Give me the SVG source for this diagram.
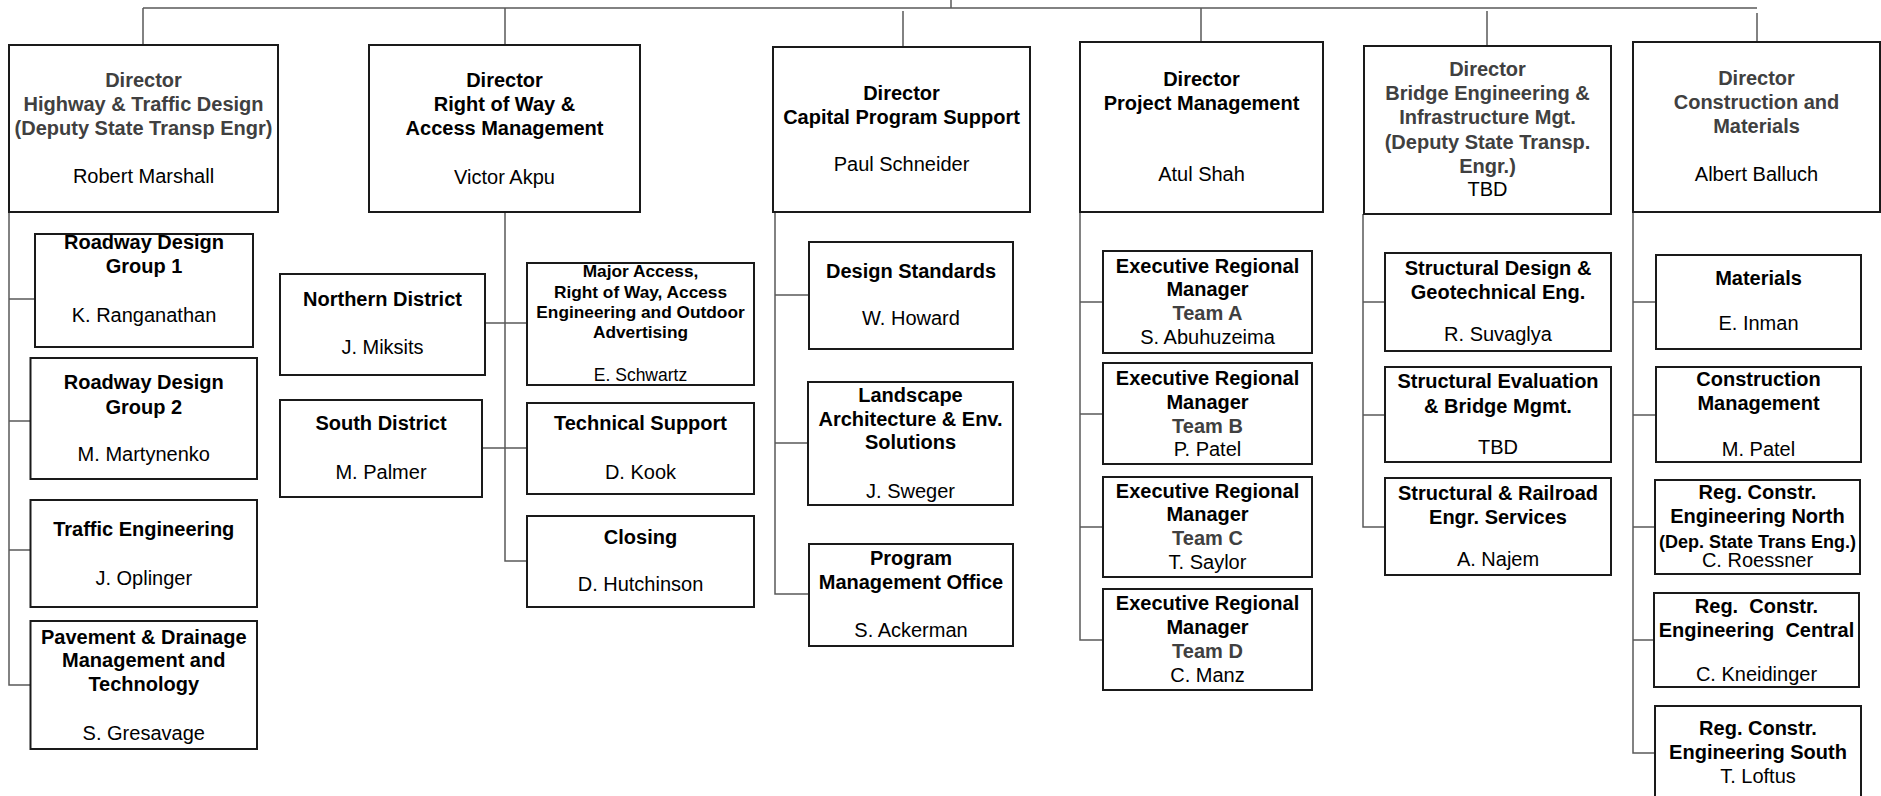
<svg xmlns="http://www.w3.org/2000/svg" width="1881" height="796" viewBox="0 0 1881 796">
<style>
.box{fill:#fff;stroke:#1a1a1a;stroke-width:2}
text{font-family:"Liberation Sans",Arial,sans-serif;text-anchor:middle;fill:#000}
.b{font-size:20px;font-weight:bold}
.r{font-size:20px}
.g{fill:#404040}
.sb{font-size:17.3px;font-weight:bold}
.sr{font-size:17.5px}
.conn{fill:none;stroke:#5a5a5a;stroke-width:1.5}
</style>
<rect width="1881" height="796" fill="#fff"/>
<g id="connectors" class="conn">
<path d="M951,0 V8 M143,8 H1757 M143,8 V45 M505,8 V45 M903,11 V47 M1201,8 V42 M1487,11 V46 M1757,13 V42"/>
<path d="M9,212 V685 H30.5 M9,299 H35 M9,421 H30.5 M9,550 H30.5"/>
<path d="M505,212 V561 H527 M485,323 H527 M482,448 H527"/>
<path d="M775,212 V594 H809 M775,295 H809 M775,443 H808"/>
<path d="M1080,212 V640 H1103 M1080,302 H1103 M1080,414 H1103 M1080,527 H1103"/>
<path d="M1363,214 V527 H1385 M1363,302 H1385 M1363,415 H1385"/>
<path d="M1633,212 V753 H1655 M1633,302 H1656 M1633,415 H1656 M1633,527 H1655 M1633,640 H1654"/>
</g>
<g id="dir-highway">
<rect class="box" x="9" y="45" width="269" height="167"/>
<text class="b g" x="143.5" y="87">Director</text>
<text class="b g" x="143.5" y="111">Highway &amp; Traffic Design</text>
<text class="b g" x="143.5" y="135">(Deputy State Transp Engr)</text>
<text class="r" x="143.5" y="183">Robert Marshall</text>
</g>
<g id="dir-row">
<rect class="box" x="369" y="45" width="271" height="167"/>
<text class="b" x="504.5" y="87">Director</text>
<text class="b" x="504.5" y="111">Right of Way &amp;</text>
<text class="b" x="504.5" y="135">Access Management</text>
<text class="r" x="504.5" y="184">Victor Akpu</text>
</g>
<g id="dir-capital">
<rect class="box" x="773" y="47" width="257" height="165"/>
<text class="b" x="901.5" y="100">Director</text>
<text class="b" x="901.5" y="124">Capital Program Support</text>
<text class="r" x="901.5" y="171">Paul Schneider</text>
</g>
<g id="dir-project">
<rect class="box" x="1080" y="42" width="243" height="170"/>
<text class="b" x="1201.5" y="86">Director</text>
<text class="b" x="1201.5" y="110">Project Management</text>
<text class="r" x="1201.5" y="181">Atul Shah</text>
</g>
<g id="dir-bridge">
<rect class="box" x="1364" y="46" width="247" height="168"/>
<text class="b g" x="1487.5" y="76">Director</text>
<text class="b g" x="1487.5" y="100">Bridge Engineering &amp;</text>
<text class="b g" x="1487.5" y="124">Infrastructure Mgt.</text>
<text class="b g" x="1487.5" y="149">(Deputy State Transp.</text>
<text class="b g" x="1487.5" y="173">Engr.)</text>
<text class="r" x="1487.5" y="196">TBD</text>
</g>
<g id="dir-construction">
<rect class="box" x="1633" y="42" width="247" height="170"/>
<text class="b g" x="1756.5" y="85">Director</text>
<text class="b g" x="1756.5" y="109">Construction and</text>
<text class="b g" x="1756.5" y="133">Materials</text>
<text class="r" x="1756.5" y="181">Albert Balluch</text>
</g>
<g id="roadway1">
<rect class="box" x="35" y="234" width="218" height="113"/>
<text class="b" x="144" y="249">Roadway Design</text>
<text class="b" x="144" y="273">Group 1</text>
<text class="r" x="144" y="322">K. Ranganathan</text>
</g>
<g id="roadway2">
<rect class="box" x="30.5" y="358" width="226.5" height="121"/>
<text class="b" x="143.75" y="389">Roadway Design</text>
<text class="b" x="143.75" y="414">Group 2</text>
<text class="r" x="143.75" y="461">M. Martynenko</text>
</g>
<g id="traffic">
<rect class="box" x="30.5" y="500" width="226.5" height="107"/>
<text class="b" x="143.75" y="536">Traffic Engineering</text>
<text class="r" x="143.75" y="585">J. Oplinger</text>
</g>
<g id="pavement">
<rect class="box" x="30.5" y="621" width="226.5" height="128"/>
<text class="b" x="143.75" y="644">Pavement &amp; Drainage</text>
<text class="b" x="143.75" y="667">Management and</text>
<text class="b" x="143.75" y="691">Technology</text>
<text class="r" x="143.75" y="740">S. Gresavage</text>
</g>
<g id="northern">
<rect class="box" x="280" y="274" width="205" height="101"/>
<text class="b" x="382.5" y="306">Northern District</text>
<text class="r" x="382.5" y="354">J. Miksits</text>
</g>
<g id="major-access">
<rect class="box" x="527" y="263" width="227" height="122"/>
<text class="sb" x="640.5" y="277">Major Access,</text>
<text class="sb" x="640.5" y="298">Right of Way, Access</text>
<text class="sb" x="640.5" y="318">Engineering and Outdoor</text>
<text class="sb" x="640.5" y="338">Advertising</text>
<text class="sr" x="640.5" y="381">E. Schwartz</text>
</g>
<g id="south">
<rect class="box" x="280" y="400" width="202" height="97"/>
<text class="b" x="381" y="430">South District</text>
<text class="r" x="381" y="479">M. Palmer</text>
</g>
<g id="technical">
<rect class="box" x="527" y="403" width="227" height="91"/>
<text class="b" x="640.5" y="430">Technical Support</text>
<text class="r" x="640.5" y="479">D. Kook</text>
</g>
<g id="closing">
<rect class="box" x="527" y="516" width="227" height="91"/>
<text class="b" x="640.5" y="544">Closing</text>
<text class="r" x="640.5" y="591">D. Hutchinson</text>
</g>
<g id="design-standards">
<rect class="box" x="809" y="242" width="204" height="107"/>
<text class="b" x="911" y="278">Design Standards</text>
<text class="r" x="911" y="325">W. Howard</text>
</g>
<g id="landscape">
<rect class="box" x="808" y="382" width="205" height="123"/>
<text class="b" x="910.5" y="402">Landscape</text>
<text class="b" x="910.5" y="426">Architecture &amp; Env.</text>
<text class="b" x="910.5" y="449">Solutions</text>
<text class="r" x="910.5" y="498">J. Sweger</text>
</g>
<g id="pmo">
<rect class="box" x="809" y="544" width="204" height="102"/>
<text class="b" x="911" y="565">Program</text>
<text class="b" x="911" y="589">Management Office</text>
<text class="r" x="911" y="637">S. Ackerman</text>
</g>
<g id="team-a">
<rect class="box" x="1103" y="251" width="209" height="102"/>
<text class="b" x="1207.5" y="273">Executive Regional</text>
<text class="b" x="1207.5" y="296">Manager</text>
<text class="b g" x="1207.5" y="320">Team A</text>
<text class="r" x="1207.5" y="344">S. Abuhuzeima</text>
</g>
<g id="team-b">
<rect class="box" x="1103" y="363" width="209" height="101"/>
<text class="b" x="1207.5" y="385">Executive Regional</text>
<text class="b" x="1207.5" y="409">Manager</text>
<text class="b g" x="1207.5" y="433">Team B</text>
<text class="r" x="1207.5" y="456">P. Patel</text>
</g>
<g id="team-c">
<rect class="box" x="1103" y="477" width="209" height="100"/>
<text class="b" x="1207.5" y="498">Executive Regional</text>
<text class="b" x="1207.5" y="521">Manager</text>
<text class="b g" x="1207.5" y="545">Team C</text>
<text class="r" x="1207.5" y="569">T. Saylor</text>
</g>
<g id="team-d">
<rect class="box" x="1103" y="589" width="209" height="101"/>
<text class="b" x="1207.5" y="610">Executive Regional</text>
<text class="b" x="1207.5" y="634">Manager</text>
<text class="b g" x="1207.5" y="658">Team D</text>
<text class="r" x="1207.5" y="682">C. Manz</text>
</g>
<g id="structural-design">
<rect class="box" x="1385" y="253" width="226" height="98"/>
<text class="b" x="1498" y="275">Structural Design &amp;</text>
<text class="b" x="1498" y="299">Geotechnical Eng.</text>
<text class="r" x="1498" y="341">R. Suvaglya</text>
</g>
<g id="structural-evaluation">
<rect class="box" x="1385" y="367" width="226" height="95"/>
<text class="b" x="1498" y="388">Structural Evaluation</text>
<text class="b" x="1498" y="413">&amp; Bridge Mgmt.</text>
<text class="r" x="1498" y="454">TBD</text>
</g>
<g id="structural-railroad">
<rect class="box" x="1385" y="478" width="226" height="97"/>
<text class="b" x="1498" y="500">Structural &amp; Railroad</text>
<text class="b" x="1498" y="524">Engr. Services</text>
<text class="r" x="1498" y="566">A. Najem</text>
</g>
<g id="materials">
<rect class="box" x="1656" y="255" width="205" height="94"/>
<text class="b" x="1758.5" y="285">Materials</text>
<text class="r" x="1758.5" y="330">E. Inman</text>
</g>
<g id="construction-mgmt">
<rect class="box" x="1656" y="367" width="205" height="95"/>
<text class="b" x="1758.5" y="386">Construction</text>
<text class="b" x="1758.5" y="410">Management</text>
<text class="r" x="1758.5" y="456">M. Patel</text>
</g>
<g id="reg-north">
<rect class="box" x="1655" y="480" width="205" height="94"/>
<text class="b" x="1757.5" y="499">Reg. Constr.</text>
<text class="b" x="1757.5" y="523">Engineering North</text>
<text class="b" x="1757.5" y="548" style="font-size:18px">(Dep. State Trans Eng.)</text>
<text class="r" x="1757.5" y="567">C. Roessner</text>
</g>
<g id="reg-central">
<rect class="box" x="1654" y="593" width="205" height="94"/>
<text class="b" x="1756.5" y="613" xml:space="preserve">Reg.  Constr.</text>
<text class="b" x="1756.5" y="637" xml:space="preserve">Engineering  Central</text>
<text class="r" x="1756.5" y="681">C. Kneidinger</text>
</g>
<g id="reg-south">
<rect class="box" x="1655" y="706" width="206" height="100"/>
<text class="b" x="1758" y="735">Reg. Constr.</text>
<text class="b" x="1758" y="759">Engineering South</text>
<text class="r" x="1758" y="783">T. Loftus</text>
</g>
</svg>
